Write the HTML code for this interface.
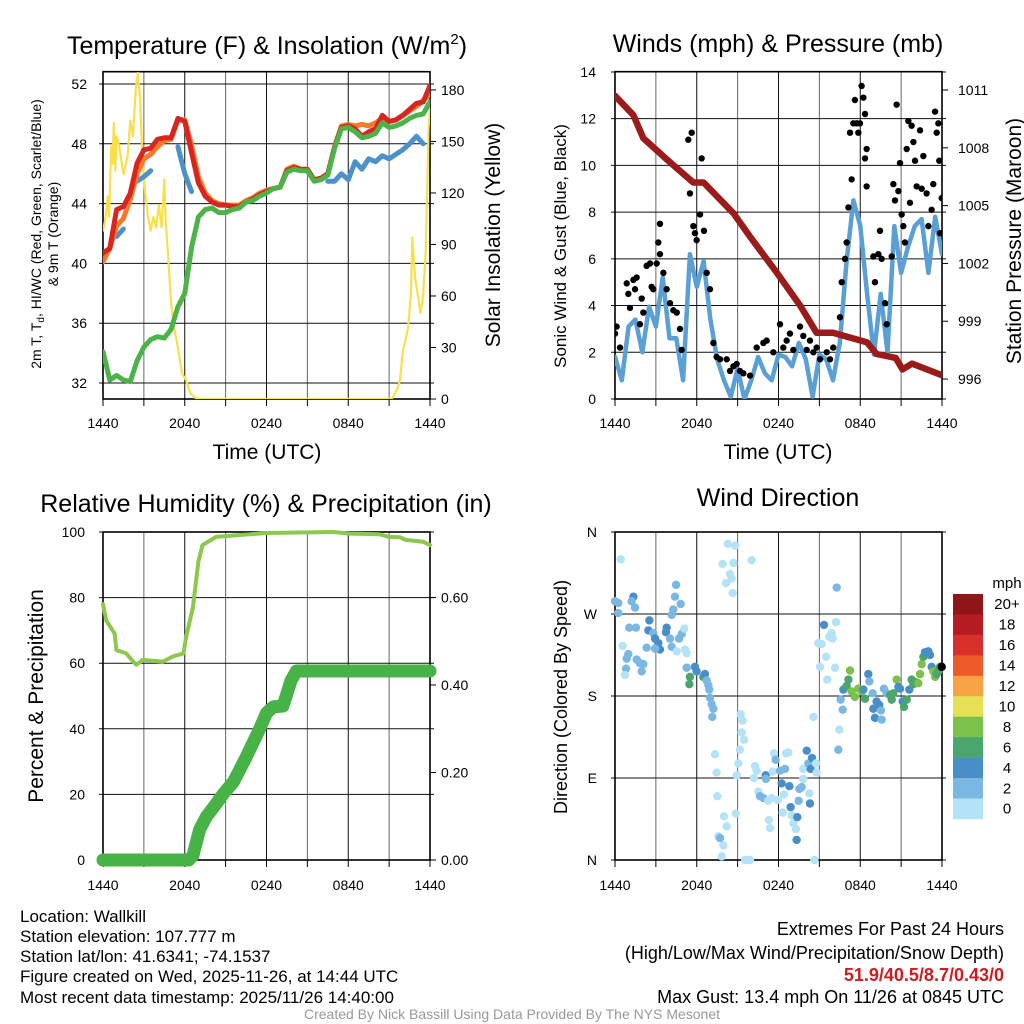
<!DOCTYPE html>
<html><head><meta charset="utf-8"><style>
body{margin:0;background:#fff;}
svg{display:block;font-family:"Liberation Sans",Arial,sans-serif;}
</style></head><body>
<svg id="chart" width="1024" height="1024" viewBox="0 0 1024 1024" xmlns="http://www.w3.org/2000/svg">
<defs>
<clipPath id="c1"><rect x="103" y="71.7" width="327" height="327.3"/></clipPath>
<clipPath id="c2"><rect x="615" y="71.7" width="327" height="327.3"/></clipPath>
<clipPath id="c3"><rect x="90" y="520" width="350" height="350"/></clipPath>
<clipPath id="c4"><rect x="605" y="522" width="345" height="345"/></clipPath>
</defs>
<text x="267" y="54" font-size="25" text-anchor="middle">Temperature (F) &amp; Insolation (W/m<tspan font-size="15" dy="-10">2</tspan><tspan dy="10">)</tspan></text>
<text x="778" y="52" font-size="25" text-anchor="middle">Winds (mph) &amp; Pressure (mb)</text>
<text x="266" y="512" font-size="25" text-anchor="middle">Relative Humidity (%) &amp; Precipitation (in)</text>
<text x="778" y="506" font-size="25" text-anchor="middle">Wind Direction</text>
<text x="267" y="459" font-size="21" text-anchor="middle">Time (UTC)</text>
<text x="778" y="459" font-size="21" text-anchor="middle">Time (UTC)</text>
<text transform="translate(41,234) rotate(-90)" font-size="14" text-anchor="middle">2m T, T<tspan font-size="10" dy="3">d</tspan><tspan dy="-3">, HI/WC (Red, Green, Scarlet/Blue)</tspan></text>
<text transform="translate(58,234) rotate(-90)" font-size="14" text-anchor="middle">&amp; 9m T (Orange)</text>
<text transform="translate(500,235) rotate(-90)" font-size="21" text-anchor="middle">Solar Insolation (Yellow)</text>
<text transform="translate(566,246) rotate(-90)" font-size="17" text-anchor="middle">Sonic Wind &amp; Gust (Blue, Black)</text>
<text transform="translate(1021,241) rotate(-90)" font-size="21" text-anchor="middle">Station Pressure (Maroon)</text>
<text transform="translate(43,696) rotate(-90)" font-size="21" text-anchor="middle">Percent &amp; Precipitation</text>
<text transform="translate(567,697) rotate(-90)" font-size="18" text-anchor="middle">Direction (Colored By Speed)</text>
<g font-size="17">
<text x="20" y="922">Location: Wallkill</text>
<text x="20" y="942">Station elevation: 107.777 m</text>
<text x="20" y="962">Station lat/lon: 41.6341; -74.1537</text>
<text x="20" y="982">Figure created on Wed, 2025-11-26, at 14:44 UTC</text>
<text x="20" y="1003">Most recent data timestamp: 2025/11/26 14:40:00</text>
</g>
<g font-size="18" text-anchor="end">
<text x="1004" y="935">Extremes For Past 24 Hours</text>
<text x="1004" y="959">(High/Low/Max Wind/Precipitation/Snow Depth)</text>
<text x="1004" y="981" fill="#d01c1f" font-weight="bold">51.9/40.5/8.7/0.43/0</text>
<text x="1004" y="1003">Max Gust: 13.4 mph On 11/26 at 0845 UTC</text>
</g>
<text x="512" y="1019" font-size="14" fill="#999" text-anchor="middle">Created By Nick Bassill Using Data Provided By The NYS Mesonet</text>
</svg>
<script>
// ---------- data ----------
const xTickLabels = ["1440","2040","0240","0840","1440"];
const tempTicks = [32,36,40,44,48,52];
const solarTicks = [0,30,60,90,120,150,180];
const windTicks = [0,2,4,6,8,10,12,14];
const pressTicks = [996,999,1002,1005,1008,1011];
const rhTicks = [0,20,40,60,80,100];
const precipTicks = [0,0.2,0.4,0.6];
const precipTickLabels = ["0.00","0.20","0.40","0.60"];
const dirTicks = [0,90,180,270,360];
const dirTickLabels = ["N","E","S","W","N"];

const halfHours = [0,0.5,1,1.5,2,2.5,3,3.5,4,4.5,5,5.5,6,6.5,7,7.5,8,8.5,9,9.5,10,10.5,11,11.5,12,12.5,13,13.5,14,14.5,15,15.5,16,16.5,17,17.5,18,18.5,19,19.5,20,20.5,21,21.5,22,22.5,23,23.5,24];
const temp2m = [40.7,41.0,43.6,43.8,44.7,46.7,47.6,47.7,48.3,48.4,48.4,49.7,49.5,47.4,45.4,44.5,44.1,43.9,43.9,43.8,43.8,44.1,44.3,44.6,44.8,45.0,45.1,46.2,46.4,46.3,46.3,45.6,45.7,46.0,47.8,49.1,49.2,49.0,48.5,48.8,49.0,49.9,49.5,49.6,49.9,50.3,50.7,50.8,51.9];
const temp9m = [40.1,41.0,42.5,43.0,44.3,46.0,47.0,47.3,47.8,48.2,48.3,49.6,49.6,47.9,45.8,44.7,44.2,44.0,43.9,43.9,43.9,44.2,44.4,44.7,44.9,45.0,45.1,46.3,46.5,46.3,46.2,45.5,45.6,46.0,47.8,49.2,49.3,49.2,49.3,49.2,49.4,49.7,49.5,49.6,49.9,50.2,50.5,50.9,51.3];
const dewpoint = [34.1,32.2,32.5,32.2,32.1,33.5,34.4,34.9,35.1,35.0,35.6,37.1,38.0,41.1,43.1,43.6,43.7,43.4,43.4,43.6,43.7,44.1,44.2,44.5,44.7,45.0,45.1,46.1,46.3,46.2,46.2,45.5,45.6,45.9,47.7,49.0,49.1,48.8,48.4,48.5,48.7,49.4,49.1,49.2,49.4,49.7,49.9,50.0,50.8];
const windChill = [null,null,41.8,42.3,null,45.5,45.8,46.2,null,null,null,47.8,46.0,44.8,null,null,null,null,null,null,null,null,null,null,null,null,null,null,null,null,null,null,null,45.5,45.5,46.0,45.6,46.8,46.3,47.0,46.8,47.2,47.0,47.3,47.6,48.0,48.5,48.0,null];
const solarTimes = [0,0.2,0.35,0.45,0.6,0.7,0.8,0.9,1.0,1.2,1.5,1.8,2.0,2.2,2.4,2.55,2.7,2.9,3.1,3.3,3.5,3.7,3.9,4.1,4.3,4.5,4.6,4.8,5.0,5.2,5.5,5.8,6.1,6.4,6.8,7.2,21.2,21.6,21.8,22.0,22.2,22.4,22.6,22.7,22.9,23.1,23.3,23.5,23.7,23.9,24];
const solarValues = [98,106,118,106,147,137,161,133,153,147,131,141,162,153,180,190,178,139,120,106,98,106,100,113,100,128,104,81,56,42,30,15,11,3.5,0.5,0,0,6,11,28,34,42,61,94,71,61,50,61,88,158,170];

const windSpeed = [1.8,0.8,3.1,3.4,2.0,3.95,3.1,5.2,2.6,2.6,0.8,6.2,4.8,5.9,3.4,1.7,0.8,0.1,1.3,0,0.8,1.8,1.1,0.8,1.9,1.8,1.4,2.4,1.7,0.1,1.9,1.7,0.8,2.4,5.9,8.5,7.4,4.5,1.9,4.5,2.0,7.4,5.4,6.5,7.4,7.7,5.4,7.8,6.2];
const gustTimes = [0,0.12,0.37,0.86,0.98,1.35,1.47,1.59,1.1,1.83,1.96,2.08,2.32,2.57,2.69,2.81,3.06,3.18,3.3,3.3,3.55,3.79,4.04,4.28,4.53,4.77,4.89,5.38,5.63,5.5,5.75,5.87,5.99,6.24,6.36,6.53,6.73,6.97,7.22,7.46,7.71,8.2,8.44,8.69,8.93,9.17,9.42,9.91,10.4,10.89,11.13,11.62,12.11,12.35,12.6,12.84,13.09,13.58,13.82,14.07,14.31,14.56,14.8,15.05,15.54,15.78,16.02,16.51,16.64,16.88,17.0,17.13,17.25,17.37,17.49,17.61,17.74,17.86,17.98,18.1,18.23,18.35,18.35,18.47,18.47,18.96,19.08,19.33,19.45,19.57,19.82,19.94,20.31,20.43,20.55,20.67,20.8,20.92,21.04,21.16,21.28,21.41,21.53,21.65,21.77,21.9,22.02,22.14,22.39,22.51,22.63,22.87,23.0,23.24,23.36,23.49,23.61,23.73,23.8,23.98,23.85];
const gustSpeeds = [2.8,3.1,2.2,4.95,4.5,5.1,4.7,5.2,3.9,3.2,4.3,3.7,5.7,5.8,4.8,4.7,5.8,6.7,7.5,6.2,5.4,4.7,4.1,3.8,3.7,3.0,2.1,11.1,11.4,8.8,7.4,7.1,6.8,7.9,10.3,7.2,5.4,4.7,2.4,1.8,1.7,1.7,1.2,1.4,1.5,1.2,1.1,1.0,2.2,2.4,2.5,2.0,3.2,2.2,2.5,2.8,2.1,3.1,2.7,2.1,2.5,2.0,2.2,1.7,2.0,1.7,2.2,3.5,5.0,6.0,6.7,8.2,11.4,9.4,11.8,12.8,11.8,11.4,11.8,13.4,12.9,12.2,10.3,10.7,9.1,6.1,5.0,6.2,7.2,6.0,4.1,3.2,6.1,9.2,8.5,12.6,8.9,10.1,7.9,7.4,6.7,10.7,11.9,8.4,11.7,11.0,10.2,9.1,11.5,9.0,10.4,8.8,7.4,8.1,9.2,12.3,11.4,11.8,10.2,8.6,7.1];
const pressTimes = [0,1.35,2.08,3.8,5.75,6.5,8.7,9.9,11.9,13.6,14.8,16,18.5,19.2,20.6,21.1,21.8,24];
const pressValues = [1010.7,1009.7,1008.5,1007.4,1006.2,1006.2,1004.6,1003.4,1001.5,999.8,998.4,998.4,997.9,997.3,997.1,996.5,996.8,996.2];

const rhTimes = [0,0.24,0.86,0.98,1.7,2.1,2.45,2.9,4.4,5.1,5.9,6.1,6.6,7,7.3,8.3,12,16.9,18.1,20.3,21,21.8,22.2,23.5,24];
const rhValues = [78,73,69,64,63,61,59.5,61,60.5,62,63,68,77,91,96,98.5,99.7,100,99.5,99.3,98.5,98.4,97.6,97,96];
const precipTimes = [0,6.3,6.6,7.1,7.6,8.1,8.8,9.6,10.5,11.5,12,12.5,13.2,13.5,13.8,14.2,24];
const precipValues = [0,0,0.01,0.07,0.1,0.12,0.15,0.18,0.235,0.3,0.336,0.35,0.352,0.38,0.41,0.432,0.432];

const dirTimes = [0.42,0,0.24,0.24,1.35,1.47,1.22,1.05,1.54,0.56,0.98,0.86,0.81,0.73,1.59,1.83,2.08,1.96,2.52,2.45,2.81,2.94,3.18,3.3,2.94,2.32,3.79,3.74,4.04,4.16,4.53,4.7,4.89,5.09,5.14,5.26,4.48,4.4,4.82,4.28,4.16,5.26,5.87,5.99,5.5,5.46,6.48,6.6,6.73,6.85,6.92,6.97,7.09,7.22,7.14,7.34,7.46,7.51,8.0,8.2,7.58,7.71,7.95,7.83,8.27,8.81,7.9,8.69,8.44,8.56,8.15,8.64,10.03,9.22,9.37,9.3,9.47,9.17,9.05,8.93,8.86,9.54,9.91,9.66,10.28,10.4,10.2,10.52,10.64,10.89,11.06,11.08,11.25,11.5,11.57,11.67,11.79,11.94,12.11,12.23,12.48,12.4,12.55,12.72,12.8,12.89,12.31,12.97,13.09,13.28,13.33,13.38,13.53,13.7,13.82,13.82,14.07,14.19,14.36,14.46,14.75,14.8,14.31,14.26,13.48,11.3,11.38,14.63,14.56,14.92,15.05,15.17,15.34,15.49,15.73,15.9,15.98,16.22,16.15,15.58,16.27,16.46,16.39,16.56,16.71,16.76,17.0,17.13,17.25,17.37,17.61,17.86,18.1,18.35,18.23,18.59,18.67,18.91,18.96,19.08,19.2,19.4,19.52,19.57,19.74,19.94,20.18,20.31,20.43,20.67,20.8,20.92,21.11,21.21,21.41,21.6,21.77,21.9,22.09,22.26,22.39,22.51,22.63,22.75,23.0,23.12,23.24,23.36,23.49,23.61,23.73,23.85,23.98];
const dirValues = [330,284,282,271,289,277,284,255,255,235,226,221,210,203,220,216,215,207,263,252,249,243,238,231,232,233,255,250,243,234,229,243,248,254,231,227,302,289,281,275,269,211,212,207,201,193,201,204,197,192,187,178,171,166,157,116,96,70,48,37,26,24,16,4,347,345,325,326,314,309,304,293,329,160,153,140,132,121,106,93,51,0,0,0,103,98,90,75,70,68,93,89,65,68,97,117,110,66,98,84,100,72,117,118,81,58,52,49,40,34,22,47,78,80,89,100,120,106,100,112,106,96,62,73,65,44,35,0,157,238,212,237,258,223,245,249,243,261,211,198,299,143,121,176,165,187,191,198,208,185,179,188,185,177,187,204,196,183,166,156,174,170,164,154,188,183,181,176,183,198,190,188,174,168,176,187,198,193,195,194,204,215,223,228,229,225,212,207,201,204,207,212,212];
const dirSpeeds = [1,3,3,3,5,3,3,3,3,1,3,3,3,1,3,3,3,3,5,5,3,5,5,5,3,3,5,5,3,3,1,3,3,1,1,1,3,3,3,3,3,3,5,5,7,7,7,5,3,3,3,3,3,3,3,1,1,1,1,1,1,3,1,1,1,1,1,1,1,1,1,1,1,1,1,1,1,1,1,1,1,1,1,1,1,1,1,1,3,3,5,3,1,1,1,1,3,1,3,5,3,1,1,1,5,5,1,1,1,1,5,5,3,3,1,1,5,3,5,5,1,1,5,1,3,1,1,1,1,1,1,1,5,1,1,1,1,1,1,1,3,1,3,3,3,5,7,7,9,9,9,9,9,7,5,5,3,3,5,5,5,5,3,3,3,3,7,7,7,9,5,5,5,7,7,5,7,7,7,9,9,9,7,5,5,5,5,9,9,7,7,7];
const speedBinColors = ["#b4e2f7","#7ab8e3","#4a8ec8","#4aa56e","#7bc24a","#e6e055","#f6a443","#ee5b2b","#d8302a","#b81c23","#8f1518"];
const speedBinLabels = ["0","2","4","6","8","10","12","14","16","18","20+"];

// ---------- axis functions ----------
const HX = 13.625;
const x1 = t => 103 + t*HX;
const x2 = t => 615 + t*HX;
const yT = v => 84 + (52 - v)*14.95;
const yS = v => 399 - v*1.717;
const yW = v => 399 - v*23.36;
const yP = p => 90 + (1011 - p)*19.27;
const yR = v => 860 - v*3.28;
const yPr = v => 860 - v*437.5;
const yD = d => 860 - d*0.9111;

const svg = document.getElementById('chart');
const NS = 'http://www.w3.org/2000/svg';
function mk(tag, attrs, parent){
  const el = document.createElementNS(NS, tag);
  for (const k in attrs) el.setAttribute(k, attrs[k]);
  (parent || svg).appendChild(el);
  return el;
}
function group(name, clip){
  const g = mk('g', clip ? {'clip-path':'url(#'+clip+')'} : {});
  
  
  return g;
}
function polyline(g, xs, ys, color, w, name){
  let segs = [], cur = [];
  for (let i=0;i<xs.length;i++){
    if (ys[i] === null){ if(cur.length) segs.push(cur); cur=[]; continue; }
    cur.push(xs[i].toFixed(1)+','+ys[i].toFixed(1));
  }
  if (cur.length) segs.push(cur);
  segs.forEach(s=>{
    const p = mk('polyline',{points:s.join(' '),fill:'none',stroke:color,'stroke-width':w,'stroke-linejoin':'round','stroke-linecap':'round'},g);
    
    
  });
}
function grid(px, top, bottom, hYs){
  const g = group('gridlines');
  for (let i=0;i<=8;i++){
    const x = px + i*3*HX;
    mk('line',{x1:x,y1:top,x2:x,y2:bottom,stroke:(i%2?'#666':'#111'),'stroke-width':1},g);
    mk('line',{x1:x,y1:bottom,x2:x,y2:bottom+7,stroke:'#000','stroke-width':1},g);
  }
  hYs.forEach(y=>mk('line',{x1:px-4,y1:y,x2:px+327+4,y2:y,stroke:'#111','stroke-width':1},g));
  mk('rect',{x:px,y:top,width:327,height:bottom-top,fill:'none',stroke:'#000','stroke-width':1.6},g);
}
function xLabels(px, y){
  const g = group('x-tick-labels');
  xTickLabels.forEach((l,i)=>{
    const t = mk('text',{x:px+i*6*HX,y:y,'font-size':14,'text-anchor':'middle'},g);
    
    
    t.textContent = l;
  });
}
function yLabels(vals, labels, fy, x, anchor, name, tickX, tickDir){
  const g = group(name);
  vals.forEach((v,i)=>{
    const y = fy(v);
    const t = mk('text',{x:x,y:y+5,'font-size':14,'text-anchor':anchor},g);
    
    
    t.textContent = labels ? labels[i] : String(v);
    if (tickX !== undefined) mk('line',{x1:tickX,y1:y,x2:tickX+tickDir*6,y2:y,stroke:'#000','stroke-width':1},g);
  });
}

// ---------- panel 1 ----------
grid(103, 71.7, 399, tempTicks.map(yT));
xLabels(103, 428);
yLabels(tempTicks, null, yT, 87, 'end', 'temperature-y-ticks');
yLabels(solarTicks, null, yS, 441, 'start', 'solar-y-ticks', 430, 1);
{
  const g = group('temperature-series','c1');
  polyline(g, solarTimes.map(x1), solarValues.map(yS), '#f9e04b', 2.2, 'solar-insolation-line');
  polyline(g, halfHours.map(x1), windChill.map(v=>v===null?null:yT(v)), '#4b92cb', 5, 'wind-chill-line');
  polyline(g, halfHours.map(x1), temp9m.map(yT), '#f47a2a', 5, 'temp-9m-line');
  polyline(g, halfHours.map(x1), temp2m.map(yT), '#d7251f', 5, 'temp-2m-line');
  polyline(g, halfHours.map(x1), dewpoint.map(yT), '#4bb347', 5, 'dewpoint-line');
}

// ---------- panel 2 ----------
grid(615, 71.7, 399, windTicks.map(yW));
xLabels(615, 428);
yLabels(windTicks, null, yW, 596, 'end', 'wind-y-ticks');
yLabels(pressTicks, null, yP, 958, 'start', 'pressure-y-ticks', 942, 1);
{
  const g = group('wind-series','c2');
  polyline(g, halfHours.map(x2), windSpeed.map(yW), '#5a9fd6', 4.5, 'wind-speed-line');
  gustTimes.forEach((t,i)=>{
    const c = mk('circle',{cx:x2(t),cy:yW(gustSpeeds[i]),r:3.2,fill:'#000'},g);
    
    
  });
  polyline(g, pressTimes.map(x2), pressValues.map(yP), '#9b1b1b', 6.5, 'pressure-line');
}

// ---------- panel 3 ----------
grid(103, 532, 860, rhTicks.map(yR));
xLabels(103, 890);
yLabels(rhTicks, null, yR, 85, 'end', 'humidity-y-ticks');
yLabels(precipTicks, precipTickLabels, yPr, 441, 'start', 'precip-y-ticks', 430, 1);
{
  const g = group('humidity-series','c3');
  polyline(g, precipTimes.map(x1), precipValues.map(yPr), '#47b346', 13, 'precipitation-line');
  polyline(g, rhTimes.map(x1), rhValues.map(yR), '#8cc84b', 4, 'relative-humidity-line');
}

// ---------- panel 4 ----------
grid(615, 532, 860, dirTicks.map(yD));
xLabels(615, 890);
yLabels(dirTicks, dirTickLabels, yD, 597, 'end', 'direction-y-ticks');
{
  const g = group('direction-points','c4');
  dirTimes.forEach((t,i)=>{
    const bin = Math.min(10, Math.floor(dirSpeeds[i]/2));
    const c = mk('circle',{cx:x2(t),cy:yD(dirValues[i]),r:4.2,fill:speedBinColors[bin]},g);
    
    
  });
}
{
  const g = group('speed-colorbar');
  const lbl = mk('text',{x:1007,y:588,'font-size':15,'text-anchor':'middle'},g);
  
  
  lbl.textContent = 'mph';
  const bh = 20.45;
  for (let k=0;k<11;k++){
    const idx = 10-k;
    const y = 594 + k*bh;
    const r = mk('rect',{x:953,y:y,width:30,height:bh+0.3,fill:speedBinColors[idx]},g);
    
    
    const t = mk('text',{x:1007,y:y+bh/2+5,'font-size':15,'text-anchor':'middle'},g);
    
    
    t.textContent = speedBinLabels[idx];
  }
}
</script>
</body></html>
